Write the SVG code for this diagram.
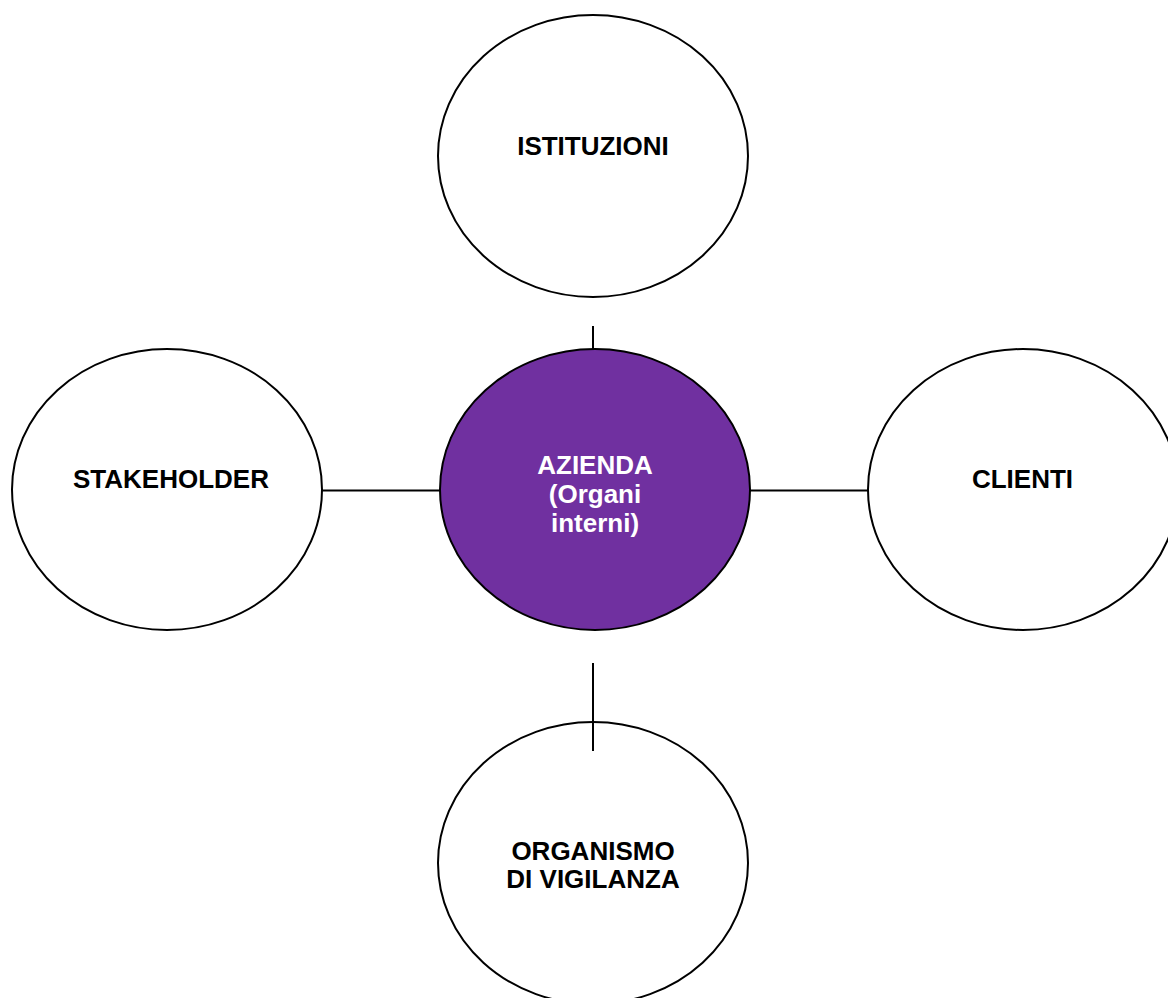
<svg xmlns="http://www.w3.org/2000/svg" width="1168" height="998" viewBox="0 0 1168 998">
<style>
.n{fill:#fff;stroke:#000;stroke-width:2}
.c{fill:#7030A0;stroke:#000;stroke-width:2}
.t{font-family:"Liberation Sans",Arial,sans-serif;font-weight:bold;font-size:26px;text-anchor:middle;fill:#000}
.w{fill:#fff}
.l{stroke:#000;stroke-width:2;fill:none}
</style>
<rect width="1168" height="998" fill="#fff"/>
<g id="connectors">
<line class="l" x1="593" y1="326" x2="593" y2="349"/>
<line class="l" x1="322" y1="490.5" x2="440" y2="490.5"/>
<line class="l" x1="750" y1="490.5" x2="868" y2="490.5"/>
<line class="l" x1="593" y1="663" x2="593" y2="751"/>
</g>
<g id="istituzioni">
<ellipse class="n" cx="593" cy="156" rx="155" ry="141"/>
<text class="t" x="593" y="155">ISTITUZIONI</text>
</g>
<g id="stakeholder">
<ellipse class="n" cx="167" cy="489.5" rx="155" ry="140.5"/>
<text class="t" x="171" y="488">STAKEHOLDER</text>
</g>
<g id="azienda">
<ellipse class="c" cx="595" cy="489.5" rx="155" ry="140.5"/>
<text class="t w" x="595" y="474">AZIENDA</text>
<text class="t w" x="595" y="503">(Organi</text>
<text class="t w" x="595" y="532">interni)</text>
</g>
<g id="clienti">
<ellipse class="n" cx="1023" cy="489.5" rx="155" ry="140.5"/>
<text class="t" x="1022.5" y="488">CLIENTI</text>
</g>
<g id="organismo">
<ellipse class="n" cx="593" cy="863" rx="155" ry="141"/>
<text class="t" x="593" y="860">ORGANISMO</text>
<text class="t" x="593" y="888">DI VIGILANZA</text>
</g>
<line class="l" x1="593" y1="722" x2="593" y2="751"/>
</svg>
